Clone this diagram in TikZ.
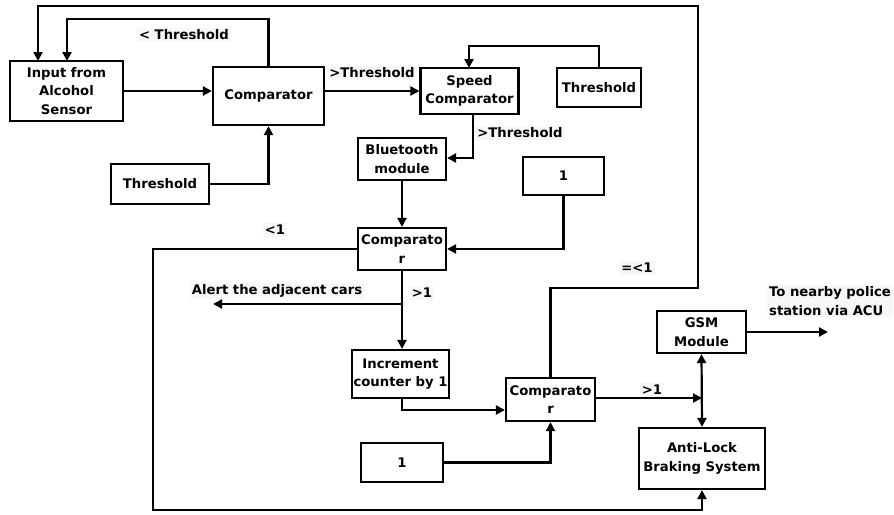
\documentclass[tikz,border=0pt]{standalone}
\usepackage{fontspec}
\setmainfont{DejaVu Sans}
\usetikzlibrary{arrows.meta}
\tikzset{
  block/.style={draw, line width=2.2pt, align=center, inner sep=1pt},
  lbl/.style={fill=black!3, inner sep=2pt},
}
\begin{document}
\begin{tikzpicture}[x=1pt, y=-1pt, line width=2.2pt, >={Triangle[length=9pt,width=9pt]},
  font=\fontsize{13.2}{18.5}\selectfont\bfseries]
            \useasboundingbox (0,0) rectangle (894,514);
            % boxes
            \node[block, minimum width=113, minimum height=60] (sensor) at (66.5,91) {Input from\\Alcohol\\Sensor};
            \node[block, minimum width=111, minimum height=58] (cmpa) at (268.5,96) {Comparator};
            \node[block, minimum width=98, minimum height=40] (thra) at (160,184) {Threshold};
            \node[block, minimum width=98, minimum height=46] (speed) at (469.5,91) {Speed\\Comparator};
            \node[block, minimum width=84, minimum height=39] (thrb) at (599,87.5) {Threshold};
            \node[block, minimum width=88, minimum height=42] (bt) at (402,159) {Bluetooth\\module};
            \node[block, minimum width=81, minimum height=38] (onea) at (563.5,176) {1};
            \node[block, minimum width=88, minimum height=42] (cmpb) at (402,249) {Comparato\\r};
            \node[block, minimum width=97, minimum height=48] (incr) at (400.5,374) {Increment\\counter by 1};
            \node[block, minimum width=82, minimum height=39] (oneb) at (402,462.5) {1};
            \node[block, minimum width=89, minimum height=43] (cmpc) at (550.5,399.5) {Comparato\\r};
            \node[block, minimum width=89, minimum height=42] (gsm) at (701.5,332) {GSM\\Module};
            \node[block, minimum width=126, minimum height=61] (abs) at (702,458.5) {Anti-Lock\\Braking System};
            % free ends
            \coordinate (alert) at (213,304);
            \coordinate (police) at (828,332);
            % labels
            \node[lbl] (lthra) at (184,35) {< Threshold};
            \node[lbl] (lthrb) at (372,73) {>Threshold};
            \node[lbl] (lthrc) at (520,133) {>Threshold};
            \node[lbl] (lless) at (275,230) {<1};
            \node[lbl] (lalert) at (277,291) {Alert the adjacent cars};
            \node[lbl] (lgta) at (422,293) {>1};
            \node[lbl] (leq) at (637,268) {=<1};
            \node[lbl] (lgtb) at (652,390) {>1};
            \node[lbl, align=left] (lpol) at (830,301) {To nearby police\\station via ACU};
            % arrows
            \draw[->] (sensor.east |- 0,91) -- (cmpa.west |- 0,91);
            \draw[->] (cmpa.east |- speed) -- (speed.west);
            \draw[->] (cmpa.north) -- (268.5,19) -- (67,19) -- (67,61);
            \draw[->] (thra.east) -- (cmpa.south |- thra.east) -- (cmpa.south);
            \draw[->] (thrb.north) -- (599,46) -- (469,46) -- (469,68);
            \draw[->] (473,114) -- (473,158) -- (bt.east |- 0,158);
            \draw[->] (bt.south) -- (cmpb.north);
            \draw[->] (onea.south) -- (563.5,249) -- (cmpb.east);
            \draw[->] (cmpb.west) -- (153,249) -- (153,510) -- (702,510) -- (abs.south);
            \draw[->] (cmpb.south) -- (cmpb.south |- incr.north);
            \draw[->] (402,304) -- (alert);
            \draw[->] (cmpb.south |- incr.south) -- (402,410) -- (cmpc.west |- 0,410);
            \draw[->] (oneb.east) -- (cmpc.south |- oneb.east) -- (cmpc.south);
            \draw[->] (cmpc.east |- 0,398) -- (702,398);
            \draw[<->] (gsm.south) -- (abs.north);
            \draw[->] (gsm.east) -- (police);
            \draw[->] (cmpc.north) -- (550.5,288) -- (698,288) -- (698,6) -- (38,6) -- (38,61);
          \end{tikzpicture}
\end{document}
